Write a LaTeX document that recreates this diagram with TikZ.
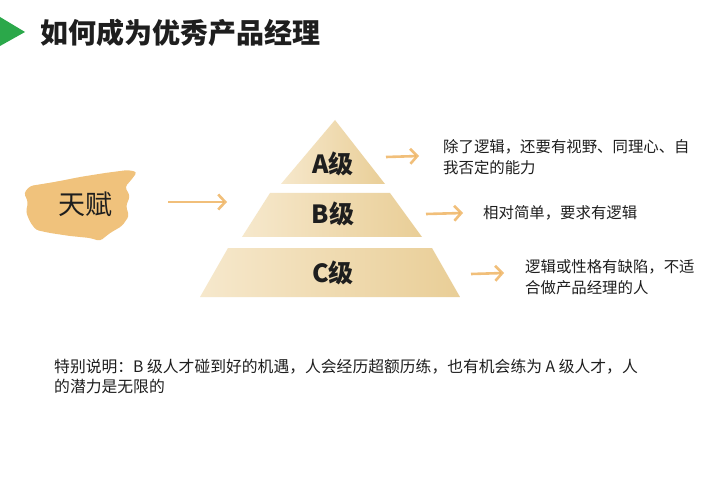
\documentclass[tikz,border=0pt]{standalone}
\usepackage{fontspec}
\setmainfont{Noto Sans CJK SC}
\usetikzlibrary{arrows.meta}
\definecolor{greenmark}{HTML}{2BA84A}
\definecolor{brushc}{HTML}{F0C27C}
\definecolor{tanL}{HTML}{F6E8CC}
\definecolor{tanR}{HTML}{E9CE97}
\definecolor{arrowc}{HTML}{EFB463}
\definecolor{txt}{HTML}{1E1E1E}
\tikzset{
  tier/.style={left color=tanL, right color=tanR, shading angle=90},
  tierlabel/.style={font=\fontsize{25}{28}\selectfont\bfseries, text=txt, inner sep=0pt},
  desc/.style={font=\fontsize{15.4}{21}\selectfont, text=txt, align=left, anchor=west, inner sep=0pt},
  garrow/.style={draw=arrowc, line width=2.6pt, opacity=0.85,
    -{Straight Barb[length=7pt,width=15pt]}},
}
\begin{document}
\begin{tikzpicture}[x=1pt,y=-1pt]
\useasboundingbox (0,0) rectangle (706,478);
\fill[white] (0,0) rectangle (706,478);

% title
\fill[greenmark] (0,17) -- (25,32) -- (0,46) -- cycle;
\node[anchor=west, inner sep=0pt, font=\fontsize{28}{30}\selectfont\bfseries, text=txt] (title) at (40,33) {如何成为优秀产品经理};

% brush stroke
\fill[brushc, rounded corners=3pt] (24,193) -- (30,186) -- (55,182) -- (80,177) -- (105,173) -- (128,170) -- (137,172) -- (132,179) -- (125,187) -- (130,196) -- (126,206) -- (129,216) -- (122,226) -- (110,233) -- (100,241) -- (90,238) -- (70,236) -- (50,233) -- (36,230) -- (30,222) -- (26,212) -- (28,202) -- cycle;
\fill[brushc, opacity=0.6] (33,186) -- (60,181) -- (58,184) -- (34,189) -- cycle;
\node[inner sep=0pt, font=\fontsize{27}{30}\selectfont, text=txt] (talent) at (85,204) {天赋};

% pyramid tiers
\shade[tier] (335,120) -- (385,184) -- (281,184) -- cycle;
\shade[tier] (270,193) -- (390,193) -- (422,237) -- (242,237) -- cycle;
\shade[tier] (228,248) -- (432,248) -- (460,297) -- (200,297) -- cycle;
\node[tierlabel] (tA) at (333,164) {A级};
\node[tierlabel] (tB) at (333,214) {B级};
\node[tierlabel] (tC) at (333,273) {C级};

% descriptions
\node[desc] (dA) at (443,157) {除了逻辑，还要有视野、同理心、自\\我否定的能力};
\node[desc] (dB) at (483,213) {相对简单，要求有逻辑};
\node[desc] (dC) at (525,277) {逻辑或性格有缺陷，不适\\合做产品经理的人};

% arrows
\coordinate (s0) at (168,202); \coordinate (e0) at (227,202);
\coordinate (s1) at (386,157); \coordinate (e1) at (419,156);
\coordinate (s2) at (426,214); \coordinate (e2) at (463,213);
\coordinate (s3) at (471,274); \coordinate (e3) at (504,273);
\draw[garrow] (s0) -- (e0);
\draw[garrow] (s1) -- (e1);
\draw[garrow] (s2) -- (e2);
\draw[garrow] (s3) -- (e3);

% note
\node[desc, anchor=north west, font=\fontsize{15.8}{19.5}\selectfont] (note) at (54,359) {特别说明：B 级人才碰到好的机遇，人会经历超额历练，也有机会练为 A 级人才，人\\的潜力是无限的};
\end{tikzpicture}
\end{document}
